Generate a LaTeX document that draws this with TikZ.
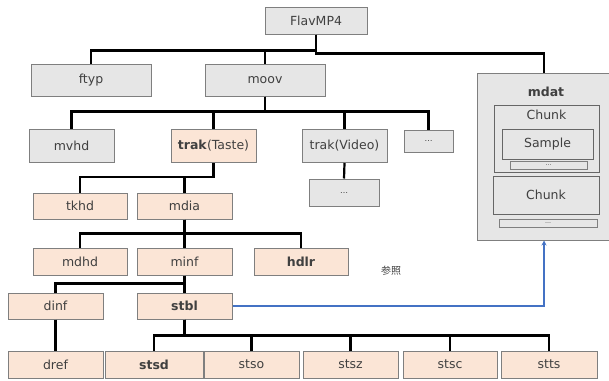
\documentclass[tikz,border=0pt]{standalone}
\usepackage{fontspec}
\usetikzlibrary{arrows.meta}
\setmainfont{DejaVu Sans}
\newfontfamily\cjk{Noto Sans CJK JP}
\definecolor{boxgray}{HTML}{E6E6E6}
\definecolor{boxpeach}{HTML}{FBE5D6}
\definecolor{edgegray}{HTML}{7F7F7F}
\definecolor{textgray}{HTML}{404040}
\definecolor{refblue}{HTML}{4472C4}
\begin{document}
\begin{tikzpicture}[x=1pt,y=-1pt,
    font=\fontsize{12.5}{14}\selectfont,
    box/.style={draw=edgegray,line width=1pt,inner sep=0pt,text=textgray},
    gbox/.style={box,fill=boxgray},
    pbox/.style={box,fill=boxpeach},
    conn/.style={line width=2.2pt,black},
    dotbar/.style={draw=edgegray,line width=0.8pt,fill=boxgray,inner sep=0pt,minimum height=8pt,text=textgray,font=\fontsize{6}{6}\selectfont},
    refline/.style={draw=refblue,line width=1.6pt,-{Stealth[length=5pt,width=5pt]}}]
\useasboundingbox (0,0) rectangle (609,380);
% top level
\node[gbox,minimum width=102pt,minimum height=27pt] (root) at (316,20.5) {FlavMP4};
\node[gbox,minimum width=120pt,minimum height=32pt] (ftyp) at (91,80) {ftyp};
\node[gbox,minimum width=120pt,minimum height=32pt] (moov) at (265,80) {moov};
% mdat and its chunks
\node[gbox,minimum width=134pt,minimum height=167pt] (mdat) at (544,156.5) {};
\node[text=textgray,font=\fontsize{12.5}{14}\selectfont\bfseries] (mdattitle) at (546,92) {mdat};
\node[gbox,draw=black!60,minimum width=105pt,minimum height=67pt] (chunka) at (546.5,138.5) {};
\node[text=textgray] (chunkatitle) at (546.5,115) {Chunk};
\node[gbox,draw=black!60,minimum width=91pt,minimum height=30pt] (sample) at (547.5,144) {Sample};
\node[dotbar,minimum width=77pt] (dotsa) at (548.5,165) {\dots};
\node[gbox,draw=black!60,minimum width=106pt,minimum height=38pt] (chunkb) at (546,195) {Chunk};
\node[dotbar,minimum width=98pt] (dotsb) at (548,223) {\dots};
% moov children
\node[gbox,minimum width=85pt,minimum height=33pt] (mvhd) at (71.5,146) {mvhd};
\node[pbox,minimum width=85pt,minimum height=33pt] (trakt) at (213.5,146) {\textbf{trak}(Taste)};
\node[gbox,minimum width=85pt,minimum height=33pt] (trakv) at (344.5,146) {trak(Video)};
\node[gbox,minimum width=49pt,minimum height=22pt,font=\fontsize{8}{8}\selectfont] (moovdots) at (428.5,141) {\dots};
\node[gbox,minimum width=70pt,minimum height=27pt,font=\fontsize{8}{8}\selectfont] (videodots) at (344,192.5) {\dots};
% trak children
\node[pbox,minimum width=94pt,minimum height=26pt] (tkhd) at (80,206) {tkhd};
\node[pbox,minimum width=95pt,minimum height=26pt] (mdia) at (184.5,206) {mdia};
\node[pbox,minimum width=94pt,minimum height=27pt] (mdhd) at (80,261.5) {mdhd};
\node[pbox,minimum width=95pt,minimum height=27pt] (minf) at (184.5,261.5) {minf};
\node[pbox,minimum width=94pt,minimum height=27pt] (hdlr) at (301,261.5) {\textbf{hdlr}};
\node[pbox,minimum width=95pt,minimum height=26pt] (dinf) at (55.5,306) {dinf};
\node[pbox,minimum width=95pt,minimum height=26pt] (stbl) at (184.5,306) {\textbf{stbl}};
% bottom row
\node[pbox,minimum width=95pt,minimum height=27pt] (dref) at (55.5,364.5) {dref};
\node[pbox,minimum width=98pt,minimum height=27pt] (stsd) at (154,364.5) {\textbf{stsd}};
\node[pbox,minimum width=95pt,minimum height=27pt] (stso) at (251.5,364.5) {stso};
\node[pbox,minimum width=95pt,minimum height=27pt] (stsz) at (350.5,364.5) {stsz};
\node[pbox,minimum width=94pt,minimum height=27pt] (stsc) at (450,364.5) {stsc};
\node[pbox,minimum width=96pt,minimum height=27pt] (stts) at (549,364.5) {stts};
\node[text=textgray,font=\cjk\fontsize{10}{12}\selectfont] (reflabel) at (391,271) {参照};
% tree lines
\draw[conn] (root.south) -- ++(0,16) -| (ftyp.north);
\draw[conn] (root.south) -- ++(0,16) -| (moov.north);
\draw[conn] (root.south) -- ++(0,19) -| (mdat.north);
\draw[conn] (moov.south) -- ++(0,15) -| (mvhd.north);
\draw[conn] (moov.south) -- ++(0,15) -| (trakt.north);
\draw[conn] (moov.south) -- ++(0,15) -| (trakv.north);
\draw[conn] (moov.south) -- ++(0,15) -| (moovdots.north);
\draw[conn] (trakv.south) -- (videodots.north);
\draw[conn] (trakt.south) -- ++(0,14) -| (tkhd.north);
\draw[conn] (trakt.south) -- ++(0,14) -| (mdia.north);
\draw[conn] (mdia.south) -- ++(0,14) -| (mdhd.north);
\draw[conn] (mdia.south) -- ++(0,14) -| (minf.north);
\draw[conn] (mdia.south) -- ++(0,14) -| (hdlr.north);
\draw[conn] (minf.south) -- ++(0,8) -| (dinf.north);
\draw[conn] (minf.south) -- (stbl.north);
\draw[conn] (dinf.south) -- (dref.north);
\foreach \leaf in {stsd,stso,stsz,stsc,stts}
  \draw[conn] (stbl.south) -- ++(0,16) -| (\leaf.north);
% reference to mdat
\draw[refline] (stbl.east) -| (mdat.south);
\end{tikzpicture}
\end{document}
